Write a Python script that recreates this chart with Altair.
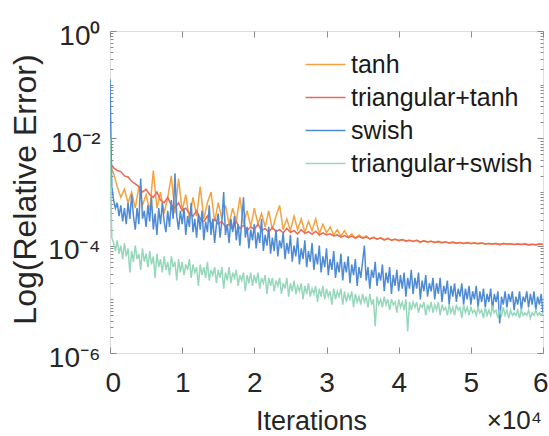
import altair as alt
import pandas as pd
import numpy as np

# ---------------- data (log10 of relative error) -------------
iters_500 = list(range(0, 60001, 500))
iters_250 = list(range(0, 60001, 250))
series_names = ["tanh", "triangular+tanh", "swish", "triangular+swish"]
colors = ["#F4A340", "#EA6A55", "#4F8BD4", "#97D7BC"]

tanh = [-2.5, -2.65, -2.9, -3.1, -2.95, -3.2, -3.0, -3.3, -2.9, -3.25,
        -3.05, -3.35, -2.6, -3.3, -3.0, -3.4, -3.1, -2.7, -3.4, -2.75,
        -3.35, -3.05, -3.5, -3.1, -3.45, -2.9, -3.5, -3.2, -3.0, -3.55,
        -3.2, -3.5, -3.25, -3.6, -3.3, -3.55, -3.1, -3.6, -3.35, -3.65,
        -3.3, -3.6, -3.4, -3.65, -3.35, -3.7, -3.45, -3.25, -3.7, -3.5,
        -3.72, -3.45, -3.7, -3.5, -3.75, -3.55, -3.72, -3.5, -3.78, -3.6,
        -3.76, -3.65, -3.8, -3.7, -3.82, -3.72, -3.84, -3.78, -3.86, -3.8,
        -3.85, -3.82, -3.88, -3.84, -3.88, -3.85, -3.9, -3.86, -3.9, -3.88,
        -3.91, -3.88, -3.92, -3.9, -3.92, -3.9, -3.94, -3.91, -3.93, -3.92,
        -3.94, -3.93, -3.95, -3.93, -3.95, -3.94, -3.96, -3.94, -3.96, -3.95,
        -3.96, -3.95, -3.97, -3.95, -3.97, -3.96, -3.97, -3.96, -3.98, -3.96,
        -3.97, -3.96, -3.98, -3.97, -3.98, -3.96, -3.98, -3.97, -3.99, -3.97,
        -3.98]

tri_tanh = [-2.45, -2.55, -2.6, -2.62, -2.7, -2.72, -2.8, -2.85, -2.9, -3.0,
            -2.95, -3.05, -3.1, -3.0, -3.15, -3.2, -3.1, -3.25, -3.3, -3.2,
            -3.35, -3.3, -3.4, -3.45, -3.35, -3.5, -3.55, -3.45, -3.6, -3.5,
            -3.6, -3.55, -3.65, -3.6, -3.7, -3.55, -3.68, -3.62, -3.72, -3.65,
            -3.7, -3.6, -3.72, -3.68, -3.75, -3.66, -3.74, -3.7, -3.76, -3.68,
            -3.75, -3.72, -3.78, -3.7, -3.77, -3.74, -3.79, -3.73, -3.8, -3.76,
            -3.8, -3.78, -3.82, -3.8, -3.84, -3.81, -3.85, -3.82, -3.86, -3.83,
            -3.86, -3.84, -3.87, -3.85, -3.88, -3.86, -3.89, -3.87, -3.9, -3.88,
            -3.9, -3.89, -3.91, -3.9, -3.92, -3.9, -3.93, -3.91, -3.93, -3.92,
            -3.94, -3.92, -3.94, -3.93, -3.95, -3.93, -3.95, -3.94, -3.96, -3.94,
            -3.96, -3.95, -3.96, -3.95, -3.97, -3.96, -3.97, -3.96, -3.98, -3.96,
            -3.97, -3.97, -3.98, -3.97, -3.98, -3.97, -3.99, -3.98, -3.98, -3.97,
            -3.98]

swish = [-0.9, -2.9, -3.15, -3.3, -3.2, -3.45, -3.25, -3.55, -3.3, -3.6,
         -3.2, -3.5, -3.05, -3.45, -3.7, -3.3, -3.6, -2.75, -3.5, -3.35,
         -3.65, -3.25, -3.55, -3.1, -3.7, -3.4, -3.8, -3.3, -3.6, -3.2,
         -3.55, -3.75, -3.35, -3.65, -3.15, -3.5, -2.65, -3.45, -3.7, -3.35,
         -3.6, -3.3, -3.8, -3.45, -3.65, -3.2, -3.75, -3.5, -3.85, -3.4,
         -3.7, -3.35, -3.9, -3.55, -3.75, -3.25, -3.8, -3.5, -3.95, -3.6,
         -3.4, -3.85, -3.55, -3.0, -3.8, -3.6, -3.95, -3.5, -3.75, -3.45,
         -3.9, -3.6, -4.0, -3.55, -3.1, -3.85, -3.65, -4.05, -3.7, -3.9,
         -3.6, -4.05, -3.75, -3.95, -3.5, -4.1, -3.8, -4.0, -3.65, -4.15,
         -3.85, -4.1, -3.7, -4.2, -3.9, -4.05, -3.75, -4.25, -3.95, -4.15,
         -3.8, -4.3, -4.0, -4.2, -3.85, -4.35, -4.05, -4.25, -3.9, -4.4,
         -4.1, -4.3, -3.95, -4.45, -4.15, -4.35, -4.0, -4.5, -4.2, -4.4,
         -4.05, -4.55, -4.25, -4.45, -4.1, -4.6, -4.3, -4.5, -4.15, -4.65,
         -4.3, -4.5, -4.2, -4.7, -4.35, -4.55, -4.25, -4.75, -4.4, -4.6,
         -4.3, -4.0, -4.65, -4.4, -4.8, -4.45, -4.6, -4.3, -4.75, -4.5,
         -4.65, -4.35, -4.85, -4.5, -4.7, -4.4, -4.9, -4.55, -4.75, -4.45,
         -4.85, -4.55, -4.8, -4.5, -4.95, -4.6, -4.8, -4.45, -4.9, -4.6,
         -4.8, -4.5, -5.0, -4.65, -4.85, -4.55, -4.95, -4.7, -4.85, -4.6,
         -5.0, -4.7, -4.9, -4.6, -5.05, -4.75, -4.9, -4.65, -5.1, -4.75,
         -4.95, -4.7, -5.05, -4.8, -4.95, -4.7, -5.1, -4.8, -5.0, -4.75,
         -5.1, -4.85, -5.0, -4.75, -5.15, -4.85, -5.05, -4.8, -5.15, -4.9,
         -5.05, -4.8, -5.2, -4.9, -5.05, -4.85, -5.45, -4.95, -5.1, -4.85,
         -5.15, -4.9, -5.05, -4.85, -5.2, -4.95, -5.1, -4.85, -5.2, -4.95,
         -5.05, -4.85, -5.15, -4.9, -5.1, -4.85, -5.2, -4.95, -5.1, -4.9,
         -5.25]

tri_swish = [-2.0, -3.85, -3.95, -4.1, -3.9, -4.15, -4.0, -4.25, -3.95, -4.2,
             -4.05, -4.5, -4.1, -4.3, -4.0, -4.25, -4.15, -4.45, -4.05, -4.3,
             -4.15, -4.4, -4.1, -4.35, -4.2, -4.6, -4.15, -4.4, -4.25, -4.5,
             -4.2, -4.45, -4.3, -4.55, -4.2, -4.4, -4.3, -4.65, -4.25, -4.5,
             -4.3, -4.55, -4.35, -4.45, -4.25, -4.6, -4.35, -4.5, -4.4, -4.75,
             -4.35, -4.55, -4.4, -4.6, -4.3, -4.65, -4.45, -4.55, -4.4, -4.7,
             -4.45, -4.6, -4.4, -4.8, -4.5, -4.65, -4.4, -4.7, -4.5, -4.6,
             -4.45, -4.75, -4.55, -4.65, -4.5, -4.85, -4.55, -4.7, -4.5, -4.75,
             -4.55, -4.7, -4.5, -4.8, -4.6, -4.7, -4.55, -4.9, -4.6, -4.75,
             -4.6, -4.85, -4.65, -4.75, -4.6, -4.9, -4.7, -4.8, -4.6, -4.95,
             -4.7, -4.85, -4.65, -4.9, -4.75, -4.85, -4.7, -5.0, -4.75, -4.9,
             -4.7, -4.95, -4.8, -4.9, -4.75, -5.05, -4.8, -4.95, -4.75, -5.0,
             -4.8, -4.95, -4.85, -5.1, -4.8, -5.0, -4.85, -4.95, -4.8, -5.1,
             -4.85, -5.05, -4.9, -5.0, -4.85, -5.15, -4.9, -5.05, -4.95, -5.1,
             -4.9, -5.05, -4.95, -5.15, -4.9, -5.1, -5.0, -5.5, -4.95, -5.1,
             -5.0, -5.15, -4.95, -5.1, -5.0, -5.2, -5.0, -5.1, -5.05, -5.25,
             -5.0, -5.15, -5.05, -5.2, -5.0, -5.6, -5.05, -5.2, -5.05, -5.15,
             -5.05, -5.25, -5.1, -5.15, -5.05, -5.3, -5.1, -5.2, -5.05, -5.25,
             -5.1, -5.2, -5.05, -5.3, -5.1, -5.2, -5.15, -5.3, -5.1, -5.25,
             -5.15, -5.3, -5.1, -5.2, -5.15, -5.35, -5.1, -5.25, -5.15, -5.3,
             -5.15, -5.25, -5.2, -5.3, -5.15, -5.25, -5.2, -5.35, -5.15, -5.3,
             -5.2, -5.3, -5.15, -5.25, -5.2, -5.35, -5.2, -5.3, -5.15, -5.3,
             -5.2, -5.35, -5.2, -5.3, -5.25, -5.3, -5.2, -5.35, -5.2, -5.3,
             -5.25, -5.3, -5.2, -5.35, -5.25, -5.3, -5.2, -5.3, -5.25, -5.3,
             -5.25]

x_ticks = [0, 10000, 20000, 30000, 40000, 50000, 60000]
x_tick_labels = ["0", "1", "2", "3", "4", "5", "6"]
y_ticks = [-6, -4, -2, 0]
y_tick_labels = ["10\u207b\u2076", "10\u207b\u2074", "10\u207b\u00b2", "10\u2070"]
minor_mantissas = [1, 2, 3, 4, 5, 6, 7, 8, 9]
decades = [-6, -5, -4, -3, -2, -1]

# ---------------- build table -----------------------------------------------------
series_data = [
    ("tanh", iters_500, tanh),
    ("triangular+tanh", iters_500, tri_tanh),
    ("swish", iters_250, swish),
    ("triangular+swish", iters_250, tri_swish),
]
rows = []
for name, its, vals in series_data:
    for it, v in zip(its, vals):
        rows.append({"iter": it, "logerr": v, "series": name})
df = pd.DataFrame(rows)

minor_ticks = [float(d + np.log10(m)) for d in decades for m in minor_mantissas]
minor_ticks = [t for t in minor_ticks if round(t, 6) not in y_ticks]

FONT = "Liberation Sans"
GRAY = "#8a8a8a"
TXT = "#262626"

xs = alt.Scale(domain=[0, 60000], nice=False, zero=False)
ys = alt.Scale(domain=[-6, 0], nice=False, zero=False)


def label_expr(vals, labs):
    expr = "''"
    for v, l in zip(vals, labs):
        expr = f"datum.value == {v} ? '{l}' : ({expr})"
    return expr


x_bottom = alt.Axis(values=x_ticks, labelExpr=label_expr(x_ticks, x_tick_labels),
                    orient="bottom", offset=-6, tickSize=6, tickColor=GRAY,
                    domain=False, grid=False, labelFontSize=28, labelColor=TXT,
                    labelFont=FONT, labelPadding=16, labelFlush=True,
                    labelFlushOffset=5,
                    labelOverlap=False, labelBound=False,
                    title="Iterations", titleFont=FONT, titleFontSize=27,
                    titleFontWeight="normal", titleColor=TXT,
                    titleX=201, titleY=82, titleAlign="center",
                    titleBaseline="alphabetic")
y_left = alt.Axis(values=y_ticks, labelExpr=label_expr(y_ticks, y_tick_labels),
                  orient="left", offset=-6, tickSize=6, tickColor=GRAY,
                  domain=False, grid=False, labelFontSize=28, labelColor=TXT,
                  labelFont=FONT, labelPadding=10, labelOffset=5,
                  labelOverlap=False, labelBound=False, labelFlush=False,
                  title="Log(Relative Error)", titleFont=FONT, titleFontSize=32,
                  titleFontWeight="normal", titleColor=TXT, titleAngle=270,
                  titleX=-81, titleY=158, titleAlign="center",
                  titleBaseline="alphabetic")
x_top = alt.Axis(values=x_ticks, orient="top", offset=-6, tickSize=6,
                 tickColor=GRAY, domain=False, grid=False, labels=False, title="")
y_right = alt.Axis(values=y_ticks, orient="right", offset=-6, tickSize=6,
                   tickColor=GRAY, domain=False, grid=False, labels=False, title="")
y_left_minor = alt.Axis(values=minor_ticks, orient="left", offset=-3, tickSize=3,
                        tickColor=GRAY, domain=False, grid=False, labels=False,
                        title="")
y_right_minor = alt.Axis(values=minor_ticks, orient="right", offset=-3, tickSize=3,
                         tickColor=GRAY, domain=False, grid=False, labels=False,
                         title="")

lines = alt.Chart(df).mark_line(strokeWidth=1.5, clip=True).encode(
    x=alt.X("iter:Q", scale=xs, axis=x_bottom),
    y=alt.Y("logerr:Q", scale=ys, axis=y_left),
    color=alt.Color("series:N",
                    scale=alt.Scale(domain=series_names, range=colors),
                    legend=alt.Legend(title=None, orient="none", legendX=203,
                                      legendY=21, symbolType="M-2,0H2",
                                      symbolSize=400, symbolStrokeWidth=1.5,
                                      labelFontSize=25, labelFont=FONT,
                                      labelColor="#1a1a1a", labelOffset=13,
                                      labelLimit=400, rowPadding=7, padding=0)),
    order=alt.Order("iter:Q"),
)

ghost_a = alt.Chart(df).mark_point(opacity=0).encode(
    x=alt.X("iter:Q", scale=xs, axis=x_top),
    y=alt.Y("logerr:Q", scale=ys, axis=y_right),
)
ghost_b = alt.Chart(df).mark_point(opacity=0).encode(
    x=alt.X("iter:Q", scale=xs, axis=None),
    y=alt.Y("logerr:Q", scale=ys, axis=y_left_minor),
)
ghost_c = alt.Chart(df).mark_point(opacity=0).encode(
    x=alt.X("iter:Q", scale=xs, axis=None),
    y=alt.Y("logerr:Q", scale=ys, axis=y_right_minor),
)

exp_note = alt.Chart(pd.DataFrame({"t": ["\u00d710\u2074"]})).mark_text(
    align="right", baseline="alphabetic", fontSize=26, font=FONT, color=TXT
).encode(text="t:N", x=alt.value(432), y=alt.value(398))

chart = alt.layer(lines, ghost_a, ghost_b, ghost_c, exp_note).resolve_axis(
    x="independent", y="independent"
).properties(
    width=433, height=322,
    autosize=alt.AutoSizeParams(type="none"),
    padding={"left": 110, "top": 31, "right": 6, "bottom": 83},
    background="white",
).configure_view(stroke=GRAY, strokeWidth=1).configure(font=FONT)

chart.save("out.html", embed_options={"renderer": "svg", "actions": False})
